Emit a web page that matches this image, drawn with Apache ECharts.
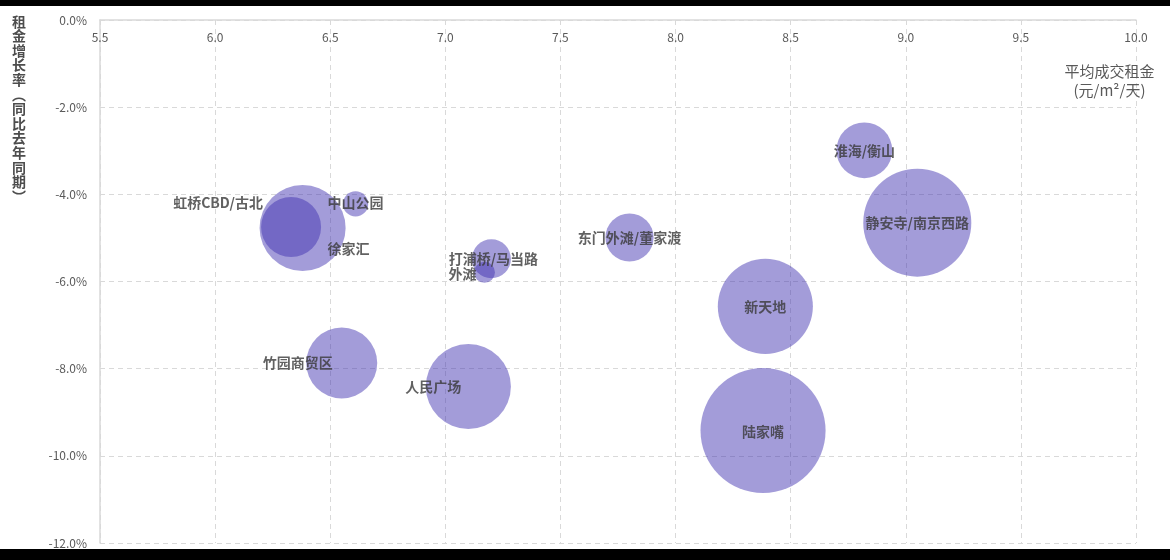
<!DOCTYPE html>
<html><head><meta charset="utf-8">
<script src="https://cdn.jsdelivr.net/npm/echarts@6/dist/echarts.min.js"></script>
<style>
html,body{margin:0;padding:0;background:#fff;}
#c{position:absolute;left:0;top:0;width:1170px;height:560px;}
.bar{position:absolute;left:0;width:1170px;background:#000;}
</style></head><body>
<div id="c"></div>
<div class="bar" style="top:0;height:6px"></div>
<div class="bar" style="top:549px;height:11px"></div>
<script>
// ---- data ----
const districts  = ['虹桥CBD/古北','徐家汇','中山公园','打浦桥/马当路','外滩','东门外滩/董家渡','淮海/衡山','静安寺/南京西路','新天地','陆家嘴','竹园商贸区','人民广场'];
const avgRent    = [6.33, 6.38, 6.61, 7.20, 7.17, 7.80, 8.82, 9.05, 8.39, 8.38, 6.55, 7.10];   // 元/m²/天
const rentGrowth = [-4.75, -4.77, -4.22, -5.48, -5.79, -4.99, -2.99, -4.65, -6.57, -9.42, -7.87, -8.41]; // %
const bubbleSize = [9.0, 18.5, 1.6, 3.8, 1.1, 5.8, 7.8, 29.2, 22.6, 39.1, 12.6, 18.1];
const xRange = {min: 5.5, max: 10.0, step: 0.5};
const yRange = {min: -12, max: 0, step: 2};
const xAxisTitle = '平均成交租金\n(元/m²/天)';
const yAxisTitle = '租金增长率︵同比去年同期︶';

// ---- layout / style (not data) ----
const labelOffsets = {
  '虹桥CBD/古北': [-73, -24], '徐家汇': [46, 21], '中山公园': [0, -1], '打浦桥/马当路': [2, 0],
  '外滩': [-22, 1], '竹园商贸区': [-44, 0], '人民广场': [-35, 0], '陆家嘴': [0, 1]
};
const FONT = '"Noto Sans CJK SC", "Noto Sans", sans-serif';

const points = districts.map((name, i) => ({
  name,
  value: [avgRent[i], rentGrowth[i], bubbleSize[i]],
  label: { offset: labelOffsets[name] || [0, 0] }
}));

const chart = echarts.init(document.getElementById('c'), null, {renderer: 'canvas'});
chart.setOption({
  animation: false,
  backgroundColor: '#fff',
  textStyle: { fontFamily: FONT },
  grid: { left: 100, top: 20, right: 34, bottom: 17, containLabel: false, outerBoundsMode: 'none' },
  xAxis: {
    type: 'value', position: 'top', min: xRange.min, max: xRange.max, interval: xRange.step,
    axisLine: { show: true, onZero: false, lineStyle: { color: '#d9d9d9', width: 1.5 } },
    axisTick: { show: false },
    axisLabel: { inside: true, color: '#595959', fontSize: 12, margin: 11, fontFamily: FONT,
      formatter: v => v.toFixed(1) },
    splitLine: { show: true, lineStyle: { color: '#d9d9d9', type: [5, 4], width: 1 } },
    name: xAxisTitle, nameLocation: 'end', nameGap: -26.5, nameMoveOverlap: false,
    nameTextStyle: { color: '#595959', fontSize: 15, lineHeight: 19, align: 'center',
      verticalAlign: 'top', padding: [41.5, 0, 0, 0], fontFamily: FONT }
  },
  yAxis: {
    type: 'value', min: yRange.min, max: yRange.max, interval: yRange.step,
    axisLine: { show: true, onZero: false, lineStyle: { color: '#d9d9d9', width: 1.5 } },
    axisTick: { show: false },
    axisLabel: { color: '#595959', fontSize: 12, margin: 13, fontFamily: FONT,
      formatter: v => v.toFixed(1) + '%' },
    splitLine: { show: true, lineStyle: { color: '#d9d9d9', type: [5, 4], width: 1 } },
    name: yAxisTitle.split('').join('\n'), nameLocation: 'end', nameGap: 6, nameMoveOverlap: false,
    nameTextStyle: { color: '#4d4d4d', fontSize: 14, fontWeight: 'bold', lineHeight: 14.6, align: 'right',
      verticalAlign: 'top', padding: [0, 74, 0, 0], fontFamily: FONT }
  },
  series: [{
    type: 'scatter',
    data: points,
    symbol: 'circle',
    symbolSize: v => 20 * Math.sqrt(v[2]),
    itemStyle: { color: 'rgba(62,48,176,0.6)', borderWidth: 0 },
    label: { show: true, position: 'inside', formatter: p => p.name,
      color: '#3a3a3a', fontSize: 14, fontWeight: 'bold', fontFamily: FONT },
    emphasis: { disabled: true }
  }]
});
</script>
</body></html>
